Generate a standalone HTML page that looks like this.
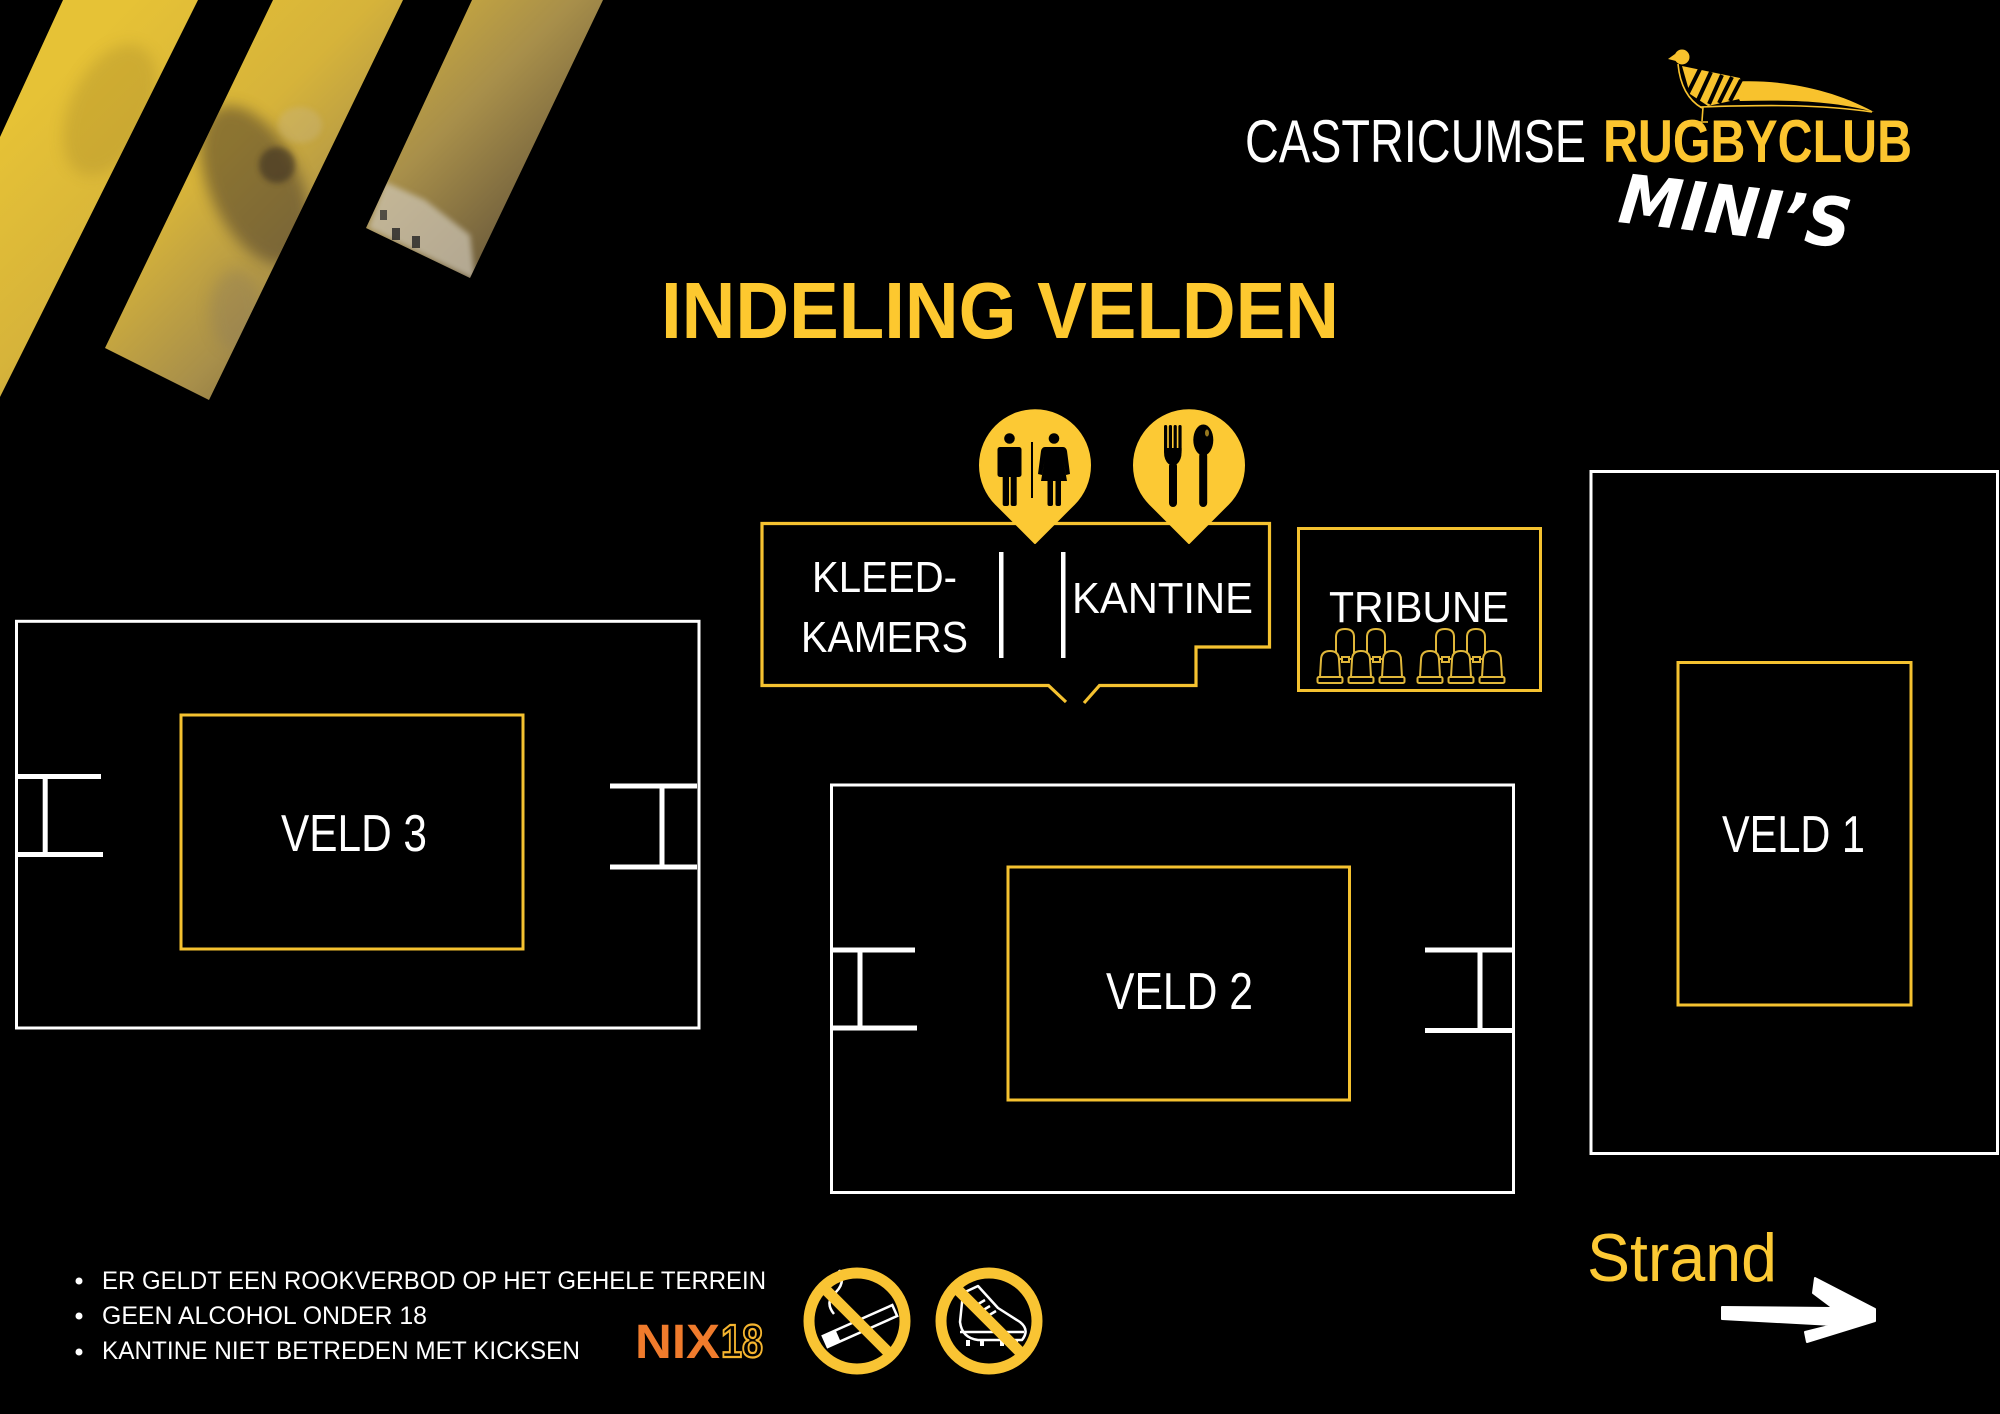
<!DOCTYPE html>
<html>
<head>
<meta charset="utf-8">
<style>
  html, body { margin:0; padding:0; background:#000; }
  body { width:2000px; height:1414px; overflow:hidden; }
  svg { display:block; }
  text { font-family: "Liberation Sans", "DejaVu Sans", sans-serif; }
</style>
</head>
<body>
<svg xmlns="http://www.w3.org/2000/svg" width="2000" height="1414" viewBox="0 0 2000 1414">
  <defs>
    <linearGradient id="g" gradientUnits="userSpaceOnUse" x1="100" y1="30" x2="470" y2="400">
      <stop offset="0" stop-color="#e6c236"/>
      <stop offset="0.33" stop-color="#d6b33a"/>
      <stop offset="0.6" stop-color="#a88f4a"/>
      <stop offset="1" stop-color="#4a3e33"/>
    </linearGradient>
    <clipPath id="cs">
      <polygon points="63,0 198,0 0,397 0,137"/>
      <polygon points="273,0 403,0 209,400 105,348"/>
      <polygon points="472,0 603,0 470,278 366,228"/>
    </clipPath>
    <filter id="bl" x="-50%" y="-50%" width="200%" height="200%"><feGaussianBlur stdDeviation="7"/></filter>
    <filter id="bl2" x="-50%" y="-50%" width="200%" height="200%"><feGaussianBlur stdDeviation="3"/></filter>
    <g id="seatB">
      <path d="M1,30 L1,8 Q1,0 10,0 Q19,0 19,8 L19,30 Z" fill="#000" stroke="#e0b73a" stroke-width="2"/>
    </g>
    <g id="seatF">
      <path d="M3,26 L4,9 Q4,0 13,0 Q22,0 22,9 L23,26 Z" fill="#000" stroke="#e0b73a" stroke-width="2"/>
      <rect x="0.5" y="26" width="25" height="6" rx="1.5" fill="#000" stroke="#e0b73a" stroke-width="2"/>
    </g>
  </defs>

  <!-- photo stripes top-left -->
  <g clip-path="url(#cs)">
    <rect x="0" y="0" width="620" height="420" fill="url(#g)"/>
    <ellipse cx="110" cy="110" rx="40" ry="70" fill="#a98a2a" opacity="0.35" filter="url(#bl)" transform="rotate(25 110 110)"/>
    <ellipse cx="255" cy="185" rx="45" ry="85" fill="#4f4129" opacity="0.55" filter="url(#bl)" transform="rotate(-25 255 185)"/>
    <circle cx="277" cy="165" r="18" fill="#3a2f22" opacity="0.6" filter="url(#bl2)"/>
    <ellipse cx="300" cy="125" rx="22" ry="18" fill="#c9b78a" opacity="0.35" filter="url(#bl2)"/>
    <ellipse cx="235" cy="310" rx="25" ry="40" fill="#8c7a5a" opacity="0.35" filter="url(#bl)"/>
    <polygon points="368,228 385,182 425,200 470,235 475,280" fill="#cfc7b7" opacity="0.7" filter="url(#bl2)"/>
    <rect x="392" y="228" width="8" height="12" fill="#222" opacity="0.8"/>
    <rect x="412" y="236" width="8" height="12" fill="#222" opacity="0.8"/>
    <rect x="380" y="210" width="7" height="10" fill="#222" opacity="0.7"/>
  </g>

  <!-- logo -->
  <text x="1245" y="162" font-size="60" fill="#ffffff" textLength="341" lengthAdjust="spacingAndGlyphs">CASTRICUMSE</text>
  <text x="1603" y="162" font-size="60" font-weight="bold" fill="#fcc52f" textLength="309" lengthAdjust="spacingAndGlyphs">RUGBYCLUB</text>
  <text x="1617" y="222" font-size="68" font-weight="bold" font-style="italic" fill="#ffffff" textLength="233" lengthAdjust="spacingAndGlyphs" transform="rotate(6.4 1617 222)" style="font-family:'DejaVu Sans','Liberation Sans',sans-serif">MINI’S</text>

  <!-- pheasant -->
  <g fill="#f8c22d" stroke="none">
    <circle cx="1682" cy="57" r="7.5"/>
    <polygon points="1675,54 1668,59 1676,61"/>
    <path d="M1730,82 C1770,79 1825,85 1874,112 C1830,100 1785,100 1740,101 Z"/>
    <path d="M1682,66 L1740,78 L1744,98 L1708,106 L1690,94 Z"/>
  </g>
  <g stroke="#000" stroke-width="4">
    <line x1="1688" y1="93" x2="1700" y2="69"/>
    <line x1="1698" y1="100" x2="1711" y2="72"/>
    <line x1="1709" y1="104" x2="1722" y2="75"/>
    <line x1="1719" y1="103" x2="1732" y2="77"/>
    <line x1="1730" y1="101" x2="1741" y2="80"/>
  </g>
  <g fill="none" stroke="#f8c22d" stroke-width="1.6">
    <path d="M1678,64 C1680,85 1688,100 1702,108"/>
    <path d="M1700,107 C1760,105 1820,104 1872,112"/>
    <path d="M1703,107 L1702,121"/>
    <path d="M1691,122 L1708,122"/>
  </g>

  <!-- title -->
  <text x="661" y="338" font-size="80" font-weight="bold" fill="#fdc82f" textLength="678" lengthAdjust="spacingAndGlyphs">INDELING VELDEN</text>

  <!-- building outline -->
  <path d="M1066,702 L1048.5,685.5 L762,685.5 L762,523.5 L1269.5,523.5 L1269.5,647 L1196,647 L1196,685.5 L1099.5,685.5 L1084,703" fill="none" stroke="#f5c230" stroke-width="3.2"/>
  <!-- white dividers -->
  <rect x="999" y="552" width="4.5" height="106" fill="#fff"/>
  <rect x="1061" y="552" width="4.5" height="106" fill="#fff"/>
  <text x="812" y="592" font-size="44" fill="#fff" textLength="145" lengthAdjust="spacingAndGlyphs">KLEED-</text>
  <text x="801" y="652" font-size="44" fill="#fff" textLength="167" lengthAdjust="spacingAndGlyphs">KAMERS</text>
  <text x="1072" y="613" font-size="44" fill="#fff" textLength="181" lengthAdjust="spacingAndGlyphs">KANTINE</text>

  <!-- pins -->
  <path d="M1035,543 L996,504 A55,55 0 1 1 1074,504 Z" fill="#fcc934" stroke="#fcc934" stroke-width="2" stroke-linejoin="round"/>
  <path d="M1189,543 L1150,504 A55,55 0 1 1 1228,504 Z" fill="#fcc934" stroke="#fcc934" stroke-width="2" stroke-linejoin="round"/>
  <!-- toilet icon -->
  <g fill="#000">
    <circle cx="1009.5" cy="438.5" r="5.3"/>
    <rect x="997.5" y="447" width="24" height="30" rx="2.5"/>
    <rect x="1002.7" y="470" width="6.3" height="36" rx="2"/>
    <rect x="1010.7" y="470" width="6" height="36" rx="2"/>
    <rect x="1031" y="442" width="2" height="56"/>
    <circle cx="1054" cy="438.5" r="5.3"/>
    <path d="M1045,447 L1063,447 Q1066,447 1067,451 L1070,474 L1066,475 L1063,458 L1067,481 L1041,481 L1045,458 L1042,475 L1038,474 L1041,451 Q1042,447 1045,447 Z"/>
    <rect x="1047.5" y="478" width="5.5" height="28" rx="2"/>
    <rect x="1055.5" y="478" width="5.5" height="28" rx="2"/>
  </g>
  <!-- cutlery icon -->
  <g fill="#000">
    <rect x="1164" y="425" width="3.2" height="27" rx="1.5"/>
    <rect x="1168.8" y="425" width="3.2" height="27" rx="1.5"/>
    <rect x="1173.6" y="425" width="3.2" height="27" rx="1.5"/>
    <rect x="1178.4" y="425" width="3.2" height="27" rx="1.5"/>
    <path d="M1164,448 L1181.6,448 L1181.6,452 Q1181.6,460 1177,464 L1168.6,464 Q1164,460 1164,452 Z"/>
    <rect x="1169" y="462" width="8" height="45" rx="4"/>
    <ellipse cx="1203.3" cy="440" rx="10" ry="15.5"/>
    <rect x="1199.2" y="452" width="8" height="55" rx="4"/>
  </g>
  <ellipse cx="1207" cy="433" rx="2" ry="3.5" fill="#fcc934" opacity="0.6"/>

  <!-- tribune -->
  <rect x="1298.5" y="528.5" width="242" height="162" fill="none" stroke="#f5c230" stroke-width="3"/>
  <text x="1329" y="622" font-size="44" fill="#fff" textLength="180" lengthAdjust="spacingAndGlyphs">TRIBUNE</text>
  <g>
    <use href="#seatB" x="1335" y="629"/>
    <use href="#seatB" x="1366" y="629"/>
    <use href="#seatB" x="1435" y="629"/>
    <use href="#seatB" x="1466" y="629"/>
    <g fill="#000" stroke="#e0b73a" stroke-width="2">
      <rect x="1342" y="657" width="7" height="5"/>
      <rect x="1373" y="657" width="7" height="5"/>
      <rect x="1442" y="657" width="7" height="5"/>
      <rect x="1473" y="657" width="7" height="5"/>
    </g>
    <use href="#seatF" x="1317" y="651"/>
    <use href="#seatF" x="1348" y="651"/>
    <use href="#seatF" x="1379" y="651"/>
    <use href="#seatF" x="1417" y="651"/>
    <use href="#seatF" x="1448" y="651"/>
    <use href="#seatF" x="1479" y="651"/>
  </g>

  <!-- VELD 3 -->
  <rect x="16.5" y="621.3" width="682.5" height="406.7" fill="none" stroke="#fff" stroke-width="3"/>
  <rect x="181" y="715" width="342" height="234" fill="none" stroke="#f5c230" stroke-width="3"/>
  <g fill="#fff">
    <rect x="15" y="774" width="86" height="5"/>
    <rect x="15" y="852" width="88" height="5"/>
    <rect x="42.7" y="776" width="5" height="78"/>
    <rect x="610" y="783.5" width="87" height="5"/>
    <rect x="610" y="864.5" width="87" height="5"/>
    <rect x="659.5" y="786" width="5" height="80"/>
  </g>
  <text x="281" y="851" font-size="52" fill="#fff" textLength="146" lengthAdjust="spacingAndGlyphs">VELD 3</text>

  <!-- VELD 2 -->
  <rect x="831.5" y="785" width="682" height="407.5" fill="none" stroke="#fff" stroke-width="3"/>
  <rect x="1008" y="867" width="341.5" height="233" fill="none" stroke="#f5c230" stroke-width="3"/>
  <g fill="#fff">
    <rect x="830" y="947.5" width="85" height="5"/>
    <rect x="830" y="1025.5" width="87" height="5"/>
    <rect x="857.5" y="950" width="5" height="78"/>
    <rect x="1425" y="947.5" width="87" height="5"/>
    <rect x="1425" y="1028" width="87" height="5"/>
    <rect x="1477.5" y="950" width="5" height="80"/>
  </g>
  <text x="1106" y="1009" font-size="52" fill="#fff" textLength="147" lengthAdjust="spacingAndGlyphs">VELD 2</text>

  <!-- VELD 1 -->
  <rect x="1591" y="471.5" width="406.5" height="682" fill="none" stroke="#fff" stroke-width="3"/>
  <rect x="1678" y="662.5" width="233" height="342.5" fill="none" stroke="#f5c230" stroke-width="3"/>
  <text x="1722" y="852" font-size="52" fill="#fff" textLength="143" lengthAdjust="spacingAndGlyphs">VELD 1</text>

  <!-- bullets -->
  <g fill="#fff">
    <circle cx="79" cy="1281" r="3.5"/>
    <circle cx="79" cy="1316" r="3.5"/>
    <circle cx="79" cy="1352" r="3.5"/>
  </g>
  <text x="102" y="1289" font-size="25" fill="#fff" textLength="664" lengthAdjust="spacingAndGlyphs">ER GELDT EEN ROOKVERBOD OP HET GEHELE TERREIN</text>
  <text x="102" y="1324" font-size="25" fill="#fff" textLength="325" lengthAdjust="spacingAndGlyphs">GEEN ALCOHOL ONDER 18</text>
  <text x="102" y="1359" font-size="25" fill="#fff" textLength="478" lengthAdjust="spacingAndGlyphs">KANTINE NIET BETREDEN MET KICKSEN</text>

  <!-- NIX18 -->
  <text x="635" y="1358" font-size="48" font-weight="bold" fill="#f07b2c" textLength="85" lengthAdjust="spacingAndGlyphs">NIX</text>
  <text x="721" y="1357" font-size="46" font-weight="bold" fill="none" stroke="#f5b52f" stroke-width="2.2" textLength="42" lengthAdjust="spacingAndGlyphs">18</text>

  <!-- no smoking -->
  <g transform="rotate(-24 860 1326)">
    <rect x="822" y="1320" width="76" height="12" fill="none" stroke="#fff" stroke-width="2.5"/>
    <rect x="822" y="1320" width="14" height="12" fill="#fff"/>
  </g>
  <path d="M834,1314 q-10,-12 2,-22 q10,-10 3,-22" fill="none" stroke="#fff" stroke-width="2.5"/>
  <line x1="823" y1="1287" x2="891" y2="1355" stroke="#f9c433" stroke-width="11"/>
  <circle cx="857" cy="1321" r="48" fill="none" stroke="#f9c433" stroke-width="11"/>

  <!-- no boots -->
  <g fill="none" stroke="#fff" stroke-width="2.5" stroke-linejoin="round">
    <path d="M963,1293 L978,1286 L998,1308 L1020,1322 Q1030,1330 1022,1340 L978,1340 Q962,1338 960,1322 Z"/>
    <path d="M960,1332 L1024,1332"/>
    <path d="M985,1300 L975,1306 M990,1306 L980,1312 M996,1311 L986,1317"/>
  </g>
  <g fill="#fff">
    <rect x="966" y="1340" width="4" height="6"/>
    <rect x="980" y="1340" width="4" height="6"/>
    <rect x="1000" y="1340" width="4" height="6"/>
    <rect x="1014" y="1340" width="4" height="6"/>
  </g>
  <line x1="955" y1="1287" x2="1023" y2="1355" stroke="#f9c433" stroke-width="11"/>
  <circle cx="989" cy="1321" r="48" fill="none" stroke="#f9c433" stroke-width="11"/>

  <!-- Strand + arrow -->
  <text x="1587" y="1281" font-size="68" fill="#fcc934" textLength="190" lengthAdjust="spacingAndGlyphs">Strand</text>
  <path d="M1722,1307 L1833,1308 L1813,1293 L1815,1278 L1875,1309 L1875,1321 L1807,1342 L1805,1332 L1833,1325 L1722,1319 Z" fill="#fff" stroke="#fff" stroke-width="2" stroke-linejoin="round"/>
</svg>
</body>
</html>
